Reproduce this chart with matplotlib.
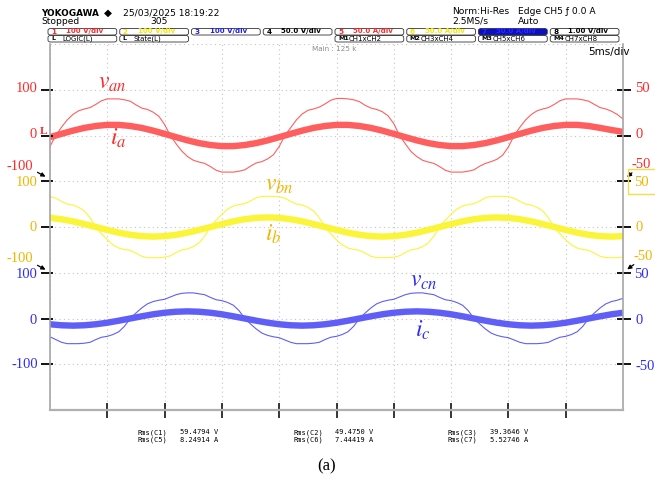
import numpy as np
import matplotlib
matplotlib.use("Agg")
import matplotlib.pyplot as plt
from matplotlib import transforms
from matplotlib.patches import FancyBboxPatch, Rectangle

W, H = 655, 487

# ---- screen data (5 ms/div, 10 div) ----
# phase voltages, sampled every 0.5 ms, in V (100 V/div)
t_v = np.arange(101) * 0.5
v_an = [-24,
        0, 18, 34, 46, 54, 58, 61, 68, 76, 80, 80, 80, 78, 75, 67, 60, 57, 51, 42, 24,
        0, -18, -34, -46, -54, -58, -61, -68, -76, -80, -80, -80, -78, -75, -67, -60, -57, -51, -42, -24,
        0, 17, 34, 47, 55, 58, 62, 69, 77, 81, 81, 80, 78, 74, 66, 60, 57, 52, 43, 26,
        0, -18, -35, -46, -54, -58, -61, -68, -76, -80, -80, -80, -78, -75, -67, -61, -57, -52, -43, -25,
        0, 18, 34, 46, 54, 58, 61, 68, 76, 80, 80, 80, 78, 75, 68, 61, 58, 53, 46, 36]
v_bn = [66, 63, 56, 50, 48, 43, 35, 20,
        0, -15, -28, -39, -46, -49, -51, -57, -64, -67, -67, -67, -66, -63, -56, -50, -48, -43, -35, -20,
        0, 15, 28, 39, 46, 49, 51, 57, 64, 67, 67, 67, 66, 63, 56, 50, 48, 43, 35, 20,
        0, -15, -28, -39, -46, -49, -51, -57, -64, -67, -67, -67, -66, -63, -56, -50, -48, -43, -35, -20,
        0, 15, 28, 39, 46, 49, 51, 57, 64, 67, 67, 67, 66, 63, 56, 50, 48, 43, 35, 20,
        0, -15, -28, -39, -46, -49, -51, -57, -64, -67, -67, -67, -66]
v_cn = [-40, -46, -52, -55, -55, -55, -54, -52, -46, -41, -39, -35, -29, -17,
        0, 12, 23, 32, 37, 40, 42, 47, 52, 55, 56, 56, 54, 52, 46, 41, 39, 35, 29, 17,
        0, -12, -23, -32, -37, -40, -42, -47, -52, -55, -55, -55, -54, -52, -46, -41, -39, -35, -29, -17,
        0, 12, 23, 32, 37, 40, 42, 47, 52, 55, 56, 56, 54, 52, 46, 41, 39, 35, 29, 17,
        0, -12, -23, -32, -37, -40, -42, -47, -52, -55, -55, -55, -54, -52, -46, -41, -39, -35, -29, -17,
        0, 12, 23, 32, 37, 40, 44]

# phase currents, sampled every 1 ms, in A (50 A/div)
t_i = np.arange(51) * 1.0
i_a = [-1.8,
       1.8, 5.3, 8.3, 10.4, 11.6, 11.6, 10.4, 8.3, 5.3, 1.8,
       -1.8, -5.3, -8.3, -10.4, -11.6, -11.6, -10.4, -8.3, -5.3, -1.8,
       1.8, 5.3, 8.3, 10.4, 11.6, 11.6, 10.4, 8.3, 5.3, 1.8,
       -1.8, -5.3, -8.3, -10.4, -11.6, -11.6, -10.4, -8.3, -5.3, -1.8,
       1.8, 5.3, 8.3, 10.4, 11.6, 11.6, 10.4, 8.3, 6.0, 4.0]
i_b = [10.0, 8.5, 6.2, 3.2, 0, -3.2, -6.2, -8.5, -10.0, -10.5, -10.0, -8.5, -6.2, -3.2,
       0, 3.2, 6.2, 8.5, 10.0, 10.5, 10.0, 8.5, 6.2, 3.2,
       0, -3.2, -6.2, -8.5, -10.0, -10.5, -10.0, -8.5, -6.2, -3.2,
       0, 3.2, 6.2, 8.5, 10.0, 10.5, 10.0, 8.5, 6.2, 3.2,
       0, -3.2, -6.2, -8.5, -10.0, -10.5, -10.0]
i_c = [-6.3, -7.4, -7.8, -7.4, -6.3, -4.6, -2.4,
       0, 2.4, 4.6, 6.3, 7.4, 7.8, 7.4, 6.3, 4.6, 2.4,
       0, -2.4, -4.6, -6.3, -7.4, -7.8, -7.4, -6.3, -4.6, -2.4,
       0, 2.4, 4.6, 6.3, 7.4, 7.8, 7.4, 6.3, 4.6, 2.4,
       0, -2.4, -4.6, -6.3, -7.4, -7.8, -7.4, -6.3, -4.6, -2.4,
       0, 2.4, 4.6, 6.3]

v_per_div = 100
i_per_div = 50
offsets = [2, 0, -2]   # trace zero levels in div (a, b, c)

rms_labels = [("Rms(C1)", "59.4794 V", "Rms(C5)", "8.24914 A"),
              ("Rms(C2)", "49.4750 V", "Rms(C6)", "7.44419 A"),
              ("Rms(C3)", "39.3646 V", "Rms(C7)", "5.52746 A")]

ch_boxes = ["100 V/div", "100 V/div", "100 V/div", "50.0 V/div",
            "50.0 A/div", "50.0 A/div", "50.0 A/div", "1.00 V/div"]
ch_row2 = ["LOGIC(L)", "State(L)", "", "", "CH1xCH2", "CH3xCH4", "CH5xCH6", "CH7xCH8"]
ch_row2_tag = ["L", "L", "", "", "M1", "M2", "M3", "M4"]

RED_TR, YEL_TR, BLU_TR = "#ff5e5e", "#fbf53a", "#5f5ff7"
RED_TX, YEL_TX, BLU_TX = "#ff2a2a", "#f2b600", "#2f2ff2"

plt.rcParams['mathtext.fontset'] = 'stix'

fig = plt.figure(figsize=(W / 100, H / 100), dpi=100)
ax = fig.add_axes([50 / W, (H - 410) / H, 573 / W, 366 / H])


def ftext(x, y, s, **kw):
    fig.text(x / W, 1 - y / H, s, **kw)


# traces: currents (thick) then voltages (thin)
for v, i, off, col in zip([v_an, v_bn, v_cn], [i_a, i_b, i_c], offsets,
                          [RED_TR, YEL_TR, BLU_TR]):
    ax.plot(t_i, off + np.array(i) / i_per_div, color=col, lw=4.6,
            solid_capstyle='butt', solid_joinstyle='round')
    ax.plot(t_v, off + np.array(v) / v_per_div, color=col, lw=0.8)

ax.set_xlim(0, 50)
ax.set_ylim(-4, 4)
ax.set_xticks(np.arange(0, 51, 5))
ax.set_yticks(np.arange(-4, 5, 1))
ax.grid(True, color="#c4c4c4", linestyle=(0, (1, 3)), lw=0.8)
ax.tick_params(length=0, labelbottom=False, labelleft=False)
ax.spines['top'].set_visible(False)
for s in ['left', 'right']:
    ax.spines[s].set_color("#a6a6a6")
    ax.spines[s].set_linewidth(1.2)
ax.spines['bottom'].set_color("#b0b0b0")
ax.spines['bottom'].set_linewidth(1.6)

# division marks on the bottom line and the channel levels on both sides
bx = transforms.blended_transform_factory(ax.transData, ax.transAxes)
ax.vlines(np.arange(5, 50, 5), -8 / 366, 7 / 366, transform=bx, color="k",
          lw=1.1, clip_on=False)
by = transforms.blended_transform_factory(ax.transAxes, ax.transData)
levels = [3, 2, 1, 0, -1, -2, -3]
ax.hlines(levels, -9 / 573, 3 / 573, transform=by, color="k", lw=1.3, clip_on=False)
ax.hlines(levels, 567 / 573, 581 / 573, transform=by, color="k", lw=1.3, clip_on=False)

# left scale labels
lab = dict(family="Liberation Serif", fontsize=10.5, va="center")
ftext(38, 89, "100", color=RED_TX, ha="right", **lab)
ftext(37, 135, "0", color=RED_TX, ha="right", **lab)
ftext(33, 167, "-100", color=RED_TX, ha="right", **lab)
ftext(38, 182, "100", color=YEL_TX, ha="right", **lab)
ftext(37, 227, "0", color=YEL_TX, ha="right", **lab)
ftext(33, 259, "-100", color=YEL_TX, ha="right", **lab)
ftext(38, 274, "100", color=BLU_TX, ha="right", **lab)
ftext(37, 320, "0", color=BLU_TX, ha="right", **lab)
ftext(38, 365, "-100", color=BLU_TX, ha="right", **lab)
ftext(40, 132, "L", color=RED_TX, ha="left", family="Liberation Serif",
      fontsize=8, va="center", fontweight="bold")

# right scale labels
ftext(635, 89, "50", color=RED_TX, ha="left", **lab)
ftext(635, 135, "0", color=RED_TX, ha="left", **lab)
ftext(632, 164, "-50", color=RED_TX, ha="left", **lab)
ftext(634, 182, "50", color=YEL_TX, ha="left", **lab)
ftext(636, 227, "0", color=YEL_TX, ha="left", **lab)
ftext(634, 257, "-50", color=YEL_TX, ha="left", **lab)
ftext(634, 274, "50", color=BLU_TX, ha="left", **lab)
ftext(635, 320, "0", color=BLU_TX, ha="left", **lab)
ftext(635, 366, "-50", color=BLU_TX, ha="left", **lab)
fig.add_artist(Rectangle((628 / W, 1 - 194 / H), 40 / W, 25 / H, fill=False,
                         ec="#f4dc4c", lw=1.0, transform=fig.transFigure))

arr = dict(arrowstyle='-|>', color='k', lw=0.9, mutation_scale=6)
for (x0, y0, x1, y1) in [(35, 171, 48, 178), (35, 264, 48, 271),
                         (634, 171, 625, 179), (636, 263, 625, 271)]:
    ax.annotate('', xy=(x1, H - y1), xycoords='figure pixels',
                xytext=(x0, H - y0), textcoords='figure pixels', arrowprops=arr)

# trace names
nm = dict(fontsize=17, va="center", ha="left")
ftext(98, 82, "$v_{an}$", color=RED_TX, **nm)
ftext(110, 138, "$i_{a}$", color=RED_TX, **nm)
ftext(265, 184, "$v_{bn}$", color=YEL_TX, **nm)
ftext(265, 234, "$i_{b}$", color=YEL_TX, **nm)
ftext(410, 280, "$v_{cn}$", color=BLU_TX, **nm)
ftext(415, 330, "$i_{c}$", color=BLU_TX, **nm)

# header
hd = dict(family="DejaVu Sans", fontsize=6.6, va="center", ha="left")
ftext(41, 13, "YOKOGAWA", fontweight="bold", **dict(hd, fontsize=6.4))
ftext(104, 13, "\u25c6", **dict(hd, fontsize=7.5))
ftext(123, 13, "25/03/2025 18:19:22", **hd)
ftext(41, 22, "Stopped", **hd)
ftext(150, 22, "305", **hd)
ftext(452, 12, "Norm:Hi-Res", **hd)
ftext(452, 21, "2.5MS/s", **hd)
ftext(518, 12, "Edge CH5 \u0192 0.0 A", **hd)
ftext(518, 21, "Auto", **hd)
ftext(312, 49, "Main : 125 k", color="#8a8a8a", **dict(hd, fontsize=5.2))
ftext(588, 52, "5ms/div", **dict(hd, fontsize=7.5))

box_cols = [RED_TX, "#f4e800", "#2020ee", "k", RED_TX, "#f4e800", "#2a2aff", "k"]
bw = 71.75
for k in range(8):
    x0 = 48 + bw * k
    face = "#0a10c8" if k == 6 else "none"
    fig.add_artist(FancyBboxPatch((x0 / W, 1 - 35 / H), (bw - 3) / W, 6.5 / H,
                                  boxstyle="round,pad=0,rounding_size=0.004",
                                  fc=face, ec="#333333", lw=0.6,
                                  transform=fig.transFigure))
    ftext(x0 + 3, 31.5, str(k + 1), color=box_cols[k], fontsize=5.2,
          va="center", ha="left", fontweight="bold")
    ftext(x0 + 18, 31.5, ch_boxes[k], color=box_cols[k], fontsize=5.0,
          va="center", ha="left", fontweight="bold")
    if ch_row2[k]:
        fig.add_artist(FancyBboxPatch((x0 / W, 1 - 42 / H), (bw - 3) / W, 6.5 / H,
                                      boxstyle="round,pad=0,rounding_size=0.004",
                                      fc="none", ec="#333333", lw=0.6,
                                      transform=fig.transFigure))
        ftext(x0 + 3, 38.7, ch_row2_tag[k], fontsize=4.6, va="center",
              ha="left", fontweight="bold")
        ftext(x0 + 14, 38.7, ch_row2[k], fontsize=5.0, va="center", ha="left")

# rms readouts
mono = dict(family="DejaVu Sans Mono", fontsize=5.0, va="center", ha="left")
for (a, b, c, d), x in zip(rms_labels, [138, 293, 448]):
    ftext(x, 432.5, a, **mono)
    ftext(x + 42, 432.5, b, **mono)
    ftext(x, 440, c, **mono)
    ftext(x + 42, 440, d, **mono)

ftext(327, 466, "(a)", family="Liberation Serif", fontsize=12, ha="center", va="center")

fig.savefig("out.png", dpi=100)
